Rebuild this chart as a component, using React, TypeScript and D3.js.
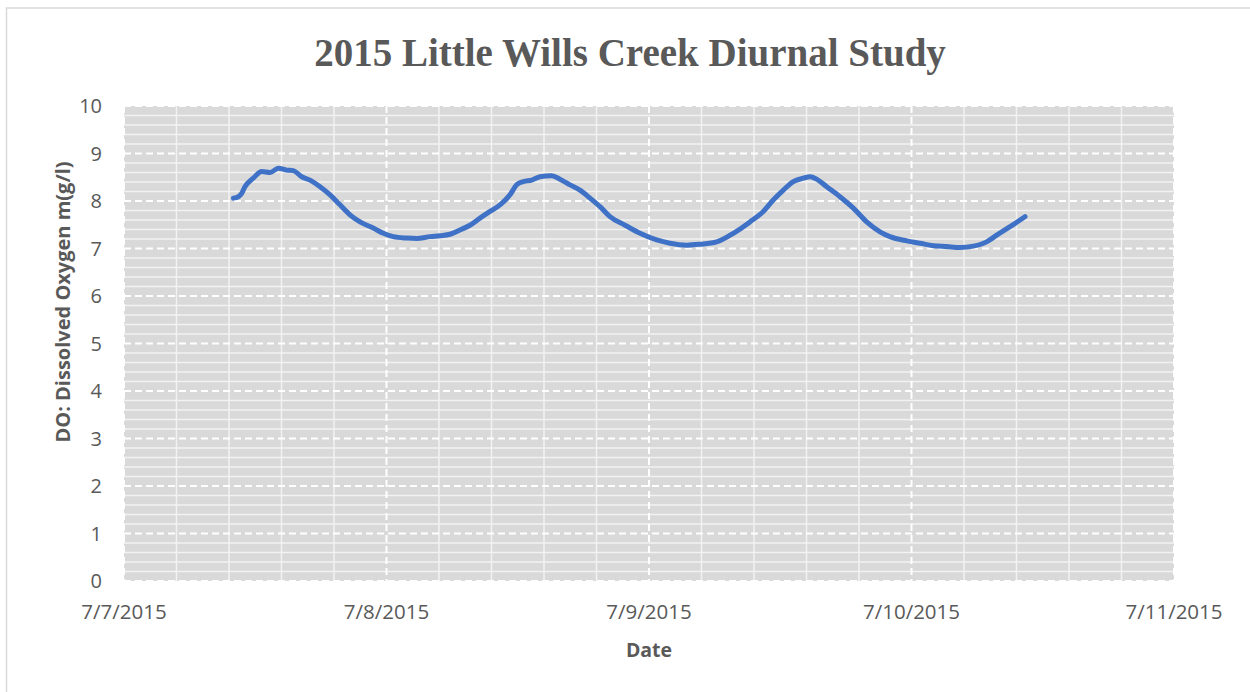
import React from "react";
import * as d3 from "d3";

const TITLE = "2015 Little Wills Creek Diurnal Study";
const X_TITLE = "Date";
const Y_TITLE = "DO: Dissolved Oxygen m(g/l)";

// Hours since 7/7/2015 00:00
const hoursSinceStart = [
  10.0, 10.45, 10.76, 11.06, 11.82, 12.59, 13.35, 14.11, 14.88, 15.48, 16.25, 17.01, 17.92, 18.84,
  19.75, 20.66, 21.58, 22.79, 23.71, 24.62, 25.85, 26.76, 27.98, 28.89, 29.81, 30.72, 31.63, 32.55,
  33.46, 34.38, 35.29, 35.9, 36.51, 37.28, 38.03, 39.1, 39.86, 40.78, 41.69, 42.61, 43.52, 44.43,
  45.81, 47.18, 48.7, 49.92, 51.45, 52.66, 54.19, 55.71, 57.23, 58.45, 59.36, 60.28, 61.19, 62.11,
  62.72, 63.33, 64.25, 65.46, 66.68, 67.9, 69.12, 70.03, 71.56, 72.78, 73.99, 75.22, 76.43, 77.65,
  78.87, 79.79, 81.01, 82.38,
];
const dissolvedOxygen = [
  8.06, 8.09, 8.16, 8.3, 8.48, 8.62, 8.6, 8.69, 8.65, 8.64, 8.51, 8.44, 8.3, 8.13,
  7.92, 7.71, 7.56, 7.43, 7.32, 7.25, 7.22, 7.21, 7.25, 7.27, 7.3, 7.39, 7.49, 7.64,
  7.78, 7.92, 8.13, 8.34, 8.41, 8.44, 8.51, 8.53, 8.46, 8.34, 8.23, 8.06, 7.88, 7.67,
  7.49, 7.32, 7.18, 7.11, 7.07, 7.09, 7.14, 7.32, 7.56, 7.78, 8.02, 8.23, 8.41, 8.48,
  8.51, 8.46, 8.3, 8.09, 7.85, 7.56, 7.35, 7.25, 7.16, 7.11, 7.06, 7.04, 7.02, 7.05,
  7.14, 7.28, 7.46, 7.67,
];

const xTickLabels = ["7/7/2015", "7/8/2015", "7/9/2015", "7/10/2015", "7/11/2015"];
const yTickValues = [0, 1, 2, 3, 4, 5, 6, 7, 8, 9, 10];

const start = new Date(2015, 6, 7, 0, 0);
const end = new Date(2015, 6, 11, 0, 0);

export default function App() {
  const W = 1250;
  const H = 692;
  const left = 124;
  const right = 1174;
  const top = 106;
  const bottom = 581;

  const x = d3.scaleTime().domain([start, end]).range([left, right]);
  const y = d3.scaleLinear().domain([0, 10]).range([bottom, top]);

  const points = hoursSinceStart.map((h, i) => ({
    t: new Date(start.getTime() + h * 3600 * 1000),
    v: dissolvedOxygen[i],
  }));

  const line = d3
    .line<{ t: Date; v: number }>()
    .x((d) => x(d.t))
    .y((d) => y(d.v))
    .curve(d3.curveMonotoneX);

  const dayTicks = xTickLabels.map((_, i) => new Date(2015, 6, 7 + i));
  const minorX: Date[] = [];
  for (let i = 0; i < 4; i++) {
    for (let k = 1; k < 5; k++) {
      minorX.push(new Date(start.getTime() + (i + k / 5) * 24 * 3600 * 1000));
    }
  }
  const minorY: number[] = [];
  for (let i = 0; i < 10; i++) {
    for (let k = 1; k < 5; k++) minorY.push(i + k / 5);
  }

  const textColor = "#595959";
  const sans = "'Open Sans', 'Noto Sans', sans-serif";

  return (
    <svg
      width={W}
      height={H}
      style={{ position: "absolute", left: 0, top: 0, background: "#fff" }}
    >
      <rect x={0} y={0} width={W} height={H} fill="#fff" />
      <rect x={6.5} y={8} width={1400} height={1000} fill="none" stroke="#d9d9d9" strokeWidth={1.5} />
      <text
        x={630}
        y={66}
        textAnchor="middle"
        fontFamily="'Liberation Serif', 'DejaVu Serif', serif"
        fontWeight="bold"
        fontSize={39}
        fill={textColor}
      >
        {TITLE}
      </text>

      <rect x={left} y={top} width={right - left} height={bottom - top} fill="#d9d9d9" />
      {minorY.map((v) => (
        <line key={"my" + v} x1={left} x2={right} y1={y(v)} y2={y(v)} stroke="#f2f2f2" strokeWidth={1.5} />
      ))}
      {minorX.map((d, i) => (
        <line key={"mx" + i} x1={x(d)} x2={x(d)} y1={top} y2={bottom} stroke="#f2f2f2" strokeWidth={1.5} />
      ))}
      {yTickValues.map((v) => (
        <line
          key={"gy" + v}
          x1={left}
          x2={right}
          y1={y(v)}
          y2={y(v)}
          stroke="#ffffff"
          strokeWidth={2}
          strokeDasharray="7,4"
        />
      ))}
      {dayTicks.map((d, i) => (
        <line
          key={"gx" + i}
          x1={x(d)}
          x2={x(d)}
          y1={top}
          y2={bottom}
          stroke="#ffffff"
          strokeWidth={2}
          strokeDasharray="7,4"
        />
      ))}

      <path
        d={line(points) || ""}
        fill="none"
        stroke="#3f72c6"
        strokeWidth={5}
        strokeLinecap="round"
        strokeLinejoin="round"
      />

      {yTickValues.map((v) => (
        <text
          key={"ty" + v}
          x={102}
          y={y(v)}
          dy="0.35em"
          textAnchor="end"
          fontFamily={sans}
          fontSize={20}
          fill={textColor}
        >
          {v}
        </text>
      ))}
      {dayTicks.map((d, i) => (
        <text
          key={"tx" + i}
          x={x(d)}
          y={619}
          textAnchor="middle"
          fontFamily={sans}
          fontSize={20.5}
          fill={textColor}
        >
          {xTickLabels[i]}
        </text>
      ))}

      <text
        x={(left + right) / 2}
        y={657}
        textAnchor="middle"
        fontFamily={sans}
        fontWeight="bold"
        fontSize={19.5}
        fill={textColor}
      >
        {X_TITLE}
      </text>
      <text
        transform={`translate(70, 302) rotate(-90)`}
        textAnchor="middle"
        fontFamily={sans}
        fontWeight="bold"
        fontSize={20}
        fill={textColor}
      >
        {Y_TITLE}
      </text>
    </svg>
  );
}
